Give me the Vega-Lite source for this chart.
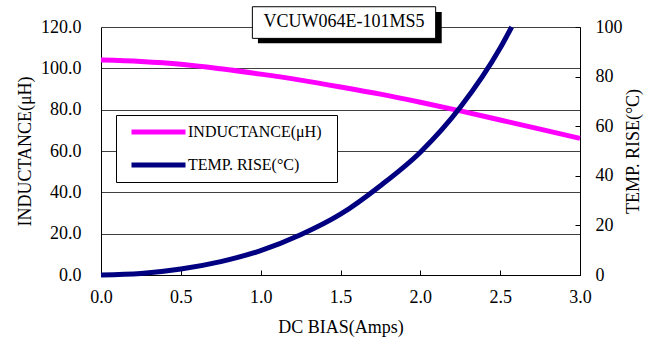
{
  "$schema": "https://vega.github.io/schema/vega-lite/v6.json",
  "width": 479,
  "height": 248,
  "autosize": "none",
  "padding": {"left": 101, "top": 27, "right": 74, "bottom": 63},
  "background": "white",
  "config": {
    "font": "Liberation Serif",
    "view": {"stroke": null},
    "axis": {
      "labelFont": "Liberation Serif",
      "titleFont": "Liberation Serif",
      "labelFontSize": 18,
      "titleFontSize": 18,
      "titleFontWeight": "normal",
      "labelColor": "black",
      "titleColor": "black",
      "domainColor": "black",
      "tickColor": "black",
      "domainWidth": 1,
      "tickWidth": 1,
      "labelFlush": false
    }
  },
  "datasets": {
    "curves": [
      {"I": 0.0, "s": "INDUCTANCE(μH)", "v": 104.0},
      {"I": 0.25, "s": "INDUCTANCE(μH)", "v": 103.3},
      {"I": 0.5, "s": "INDUCTANCE(μH)", "v": 102.0},
      {"I": 0.75, "s": "INDUCTANCE(μH)", "v": 99.8},
      {"I": 1.0, "s": "INDUCTANCE(μH)", "v": 97.2},
      {"I": 1.25, "s": "INDUCTANCE(μH)", "v": 94.3},
      {"I": 1.5, "s": "INDUCTANCE(μH)", "v": 91.0},
      {"I": 1.75, "s": "INDUCTANCE(μH)", "v": 87.5},
      {"I": 2.0, "s": "INDUCTANCE(μH)", "v": 83.6},
      {"I": 2.25, "s": "INDUCTANCE(μH)", "v": 79.4},
      {"I": 2.5, "s": "INDUCTANCE(μH)", "v": 75.0},
      {"I": 2.75, "s": "INDUCTANCE(μH)", "v": 70.6},
      {"I": 3.0, "s": "INDUCTANCE(μH)", "v": 66.1},
      {"I": 0.0, "s": "TEMP. RISE(°C)", "v": 0.0},
      {"I": 0.25, "s": "TEMP. RISE(°C)", "v": 0.6},
      {"I": 0.5, "s": "TEMP. RISE(°C)", "v": 2.4},
      {"I": 0.75, "s": "TEMP. RISE(°C)", "v": 5.4},
      {"I": 1.0, "s": "TEMP. RISE(°C)", "v": 9.8},
      {"I": 1.25, "s": "TEMP. RISE(°C)", "v": 16.2},
      {"I": 1.5, "s": "TEMP. RISE(°C)", "v": 24.5},
      {"I": 1.75, "s": "TEMP. RISE(°C)", "v": 36.0},
      {"I": 2.0, "s": "TEMP. RISE(°C)", "v": 49.5},
      {"I": 2.25, "s": "TEMP. RISE(°C)", "v": 67.6},
      {"I": 2.5, "s": "TEMP. RISE(°C)", "v": 91.5},
      {"I": 2.572, "s": "TEMP. RISE(°C)", "v": 100.0}
    ]
  },
  "layer": [
    {
      "layer": [
        {
          "data": {"name": "curves"},
          "transform": [{"filter": "datum.s == 'INDUCTANCE(μH)'"}],
          "mark": {"type": "line", "strokeWidth": 5, "interpolate": "monotone"},
          "encoding": {
            "x": {
              "field": "I", "type": "quantitative",
              "scale": {"domain": [0, 3], "nice": false, "zero": false},
              "axis": {
                "values": [0, 0.5, 1, 1.5, 2, 2.5, 3],
                "format": ".1f",
                "grid": false,
                "tickSize": -5,
                "labelPadding": 18,
                "labelFlush": false,
                "title": "DC BIAS(Amps)",
                "titlePadding": 12
              }
            },
            "y": {
              "field": "v", "type": "quantitative",
              "scale": {"domain": [0, 120], "nice": false},
              "axis": {
                "orient": "left",
                "title": "INDUCTANCE(μH)",
                "values": [0, 20, 40, 60, 80, 100, 120],
                "format": ".1f",
                "grid": true,
                "gridColor": "#404040",
                "gridOpacity": 1,
                "tickSize": 0,
                "labelPadding": 20,
                "titlePadding": 6
              }
            },
            "color": {
              "field": "s", "type": "nominal",
              "scale": {"domain": ["INDUCTANCE(μH)", "TEMP. RISE(°C)"], "range": ["#FF00FF", "#000080"]},
              "legend": {
                "orient": "none", "legendX": 15, "legendY": 88, "title": null,
                "symbolType": "stroke", "symbolSize": 2916, "symbolStrokeWidth": 5,
                "clipHeight": 20, "rowPadding": 13, "padding": 7,
                "symbolOffset": 6, "labelOffset": 0,
                "labelExpr": "datum.label + '\u00a0\u00a0\u200b'",
                "labelFont": "Liberation Serif", "labelFontSize": 16, "labelColor": "black",
                "strokeColor": "black", "fillColor": "white"
              }
            }
          }
        },
        {
          "data": {"values": [{}]},
          "mark": {"type": "rect", "fill": "black", "clip": false},
          "encoding": {
            "x": {"datum": 0.983, "type": "quantitative"},
            "x2": {"datum": 2.134},
            "y": {"datum": 127.3, "type": "quantitative"},
            "y2": {"datum": 112.1}
          }
        },
        {
          "data": {"values": [{}]},
          "mark": {"type": "rect", "fill": "white", "stroke": "black", "strokeWidth": 1, "clip": false},
          "encoding": {
            "x": {"datum": 0.948, "type": "quantitative"},
            "x2": {"datum": 2.096},
            "y": {"datum": 129.8, "type": "quantitative"},
            "y2": {"datum": 114.5}
          }
        },
        {
          "data": {"values": [{}]},
          "mark": {"type": "text", "font": "Liberation Serif", "fontSize": 18, "color": "black", "align": "center", "baseline": "middle", "clip": false},
          "encoding": {
            "x": {"datum": 1.522, "type": "quantitative"},
            "y": {"datum": 122.2, "type": "quantitative"},
            "text": {"value": "VCUW064E-101MS5"}
          }
        }
      ]
    },
    {
      "data": {"name": "curves"},
      "transform": [{"filter": "datum.s == 'TEMP. RISE(°C)'"}],
      "mark": {"type": "line", "strokeWidth": 5, "interpolate": "monotone"},
      "encoding": {
        "x": {"field": "I", "type": "quantitative"},
        "y": {
          "field": "v", "type": "quantitative",
          "scale": {"domain": [0, 100], "nice": false},
          "axis": {
            "orient": "right",
            "title": "TEMP. RISE(°C)",
            "values": [0, 20, 40, 60, 80, 100],
            "format": "d",
            "grid": false,
            "tickSize": -5,
            "labelPadding": 20,
            "titleAngle": 270,
            "titleBaseline": "top",
            "titlePadding": 2
          }
        },
        "color": {
          "field": "s", "type": "nominal",
          "scale": {"domain": ["INDUCTANCE(μH)", "TEMP. RISE(°C)"], "range": ["#FF00FF", "#000080"]},
          "legend": {
            "orient": "none", "legendX": 15, "legendY": 88, "title": null,
            "symbolType": "stroke", "symbolSize": 2916, "symbolStrokeWidth": 5,
            "clipHeight": 20, "rowPadding": 13, "padding": 7,
            "symbolOffset": 6, "labelOffset": 0,
            "labelExpr": "datum.label + '\u00a0\u00a0\u200b'",
            "labelFont": "Liberation Serif", "labelFontSize": 16, "labelColor": "black",
            "strokeColor": "black", "fillColor": "white"
          }
        }
      }
    }
  ],
  "resolve": {"scale": {"y": "independent"}}
}
